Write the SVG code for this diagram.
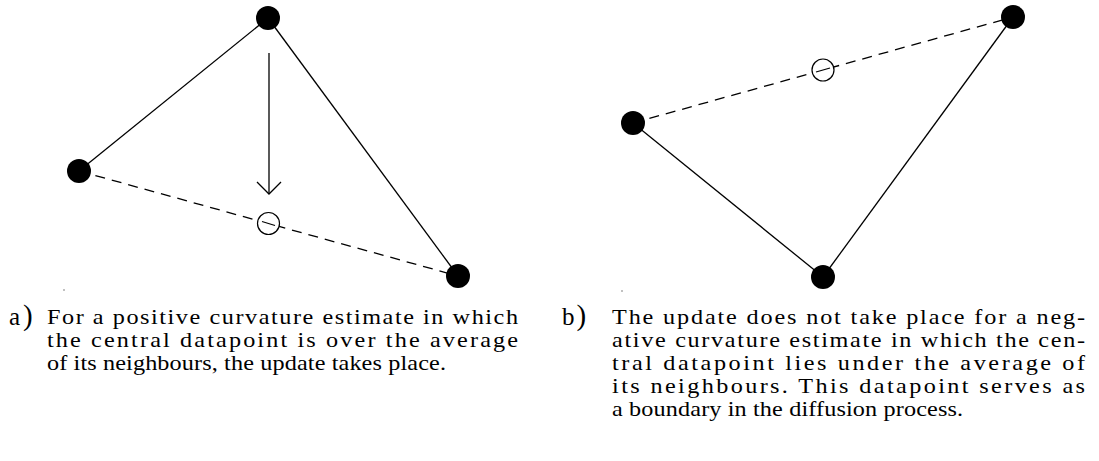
<svg xmlns="http://www.w3.org/2000/svg" width="1099" height="461" viewBox="0 0 1099 461">
<style>
.edge{stroke:#000;stroke-width:1.3;fill:none}
.dash{stroke:#000;stroke-width:1.3;fill:none;stroke-dasharray:10 7}
.node{fill:#000}
.mid{fill:#fff;stroke:#000;stroke-width:1.2}
.cap{font-family:"Liberation Serif","Times New Roman",serif;font-size:22px;fill:#000}
.lab{font-family:"Liberation Serif","Times New Roman",serif;font-size:25px;fill:#000}
</style>
<rect width="1099" height="461" fill="#fff"/>
<g id="connectors">
  <line class="edge" x1="79" y1="171" x2="268" y2="18"/>
  <line class="edge" x1="268" y1="18" x2="458" y2="276"/>
  <line class="dash" x1="79" y1="171" x2="458" y2="276"/>
  <line class="edge" x1="269" y1="53" x2="269" y2="194"/>
  <polyline class="edge" points="257,182 269,194 281,182"/>
  <line class="edge" x1="633" y1="123" x2="823" y2="277"/>
  <line class="edge" x1="823" y1="277" x2="1013" y2="17"/>
  <line class="dash" x1="633" y1="123" x2="1013" y2="17"/>
</g>
<g id="a-top"><circle class="node" cx="268" cy="18" r="12"/></g>
<g id="a-left"><circle class="node" cx="79" cy="171" r="12"/></g>
<g id="a-right"><circle class="node" cx="458" cy="276" r="12"/></g>
<g id="a-mid"><circle class="mid" cx="268.5" cy="223.5" r="11"/><line class="edge" x1="262" y1="221.5" x2="275" y2="225.5"/></g>
<g id="b-left"><circle class="node" cx="633" cy="123" r="12"/></g>
<g id="b-top"><circle class="node" cx="1013" cy="17" r="12"/></g>
<g id="b-bottom"><circle class="node" cx="823" cy="277" r="12"/></g>
<g id="b-mid"><circle class="mid" cx="823" cy="70" r="11"/><line class="edge" x1="816" y1="72" x2="830" y2="68"/></g>
<circle cx="64" cy="290" r="0.7" fill="#555"/>
<circle cx="622" cy="291" r="0.7" fill="#555"/>
<g id="caption-a">
  <text class="lab" x="9" y="325">a<tspan font-size="29" dx="3">)</tspan></text>
  <g transform="scale(1.1 1)">
    <text class="cap" x="42.7" y="324" textLength="428.2" lengthAdjust="spacing">For a positive curvature estimate in which</text>
    <text class="cap" x="42.7" y="347" textLength="428.2" lengthAdjust="spacing">the central datapoint is over the average</text>
    <text class="cap" x="42.7" y="370" textLength="362.7" lengthAdjust="spacing">of its neighbours, the update takes place.</text>
  </g>
</g>
<g id="caption-b">
  <text class="lab" x="562" y="325">b<tspan font-size="29" dx="2">)</tspan></text>
  <g transform="scale(1.1 1)">
    <text class="cap" x="556.4" y="324" textLength="430" lengthAdjust="spacing">The update does not take place for a neg-</text>
    <text class="cap" x="556.4" y="347" textLength="430" lengthAdjust="spacing">ative curvature estimate in which the cen-</text>
    <text class="cap" x="556.4" y="370" textLength="430" lengthAdjust="spacing">tral datapoint lies under the average of</text>
    <text class="cap" x="556.4" y="393" textLength="430" lengthAdjust="spacing">its neighbours.  This datapoint serves as</text>
    <text class="cap" x="556.4" y="416" textLength="319.1" lengthAdjust="spacing">a boundary in the diffusion process.</text>
  </g>
</g>
</svg>
